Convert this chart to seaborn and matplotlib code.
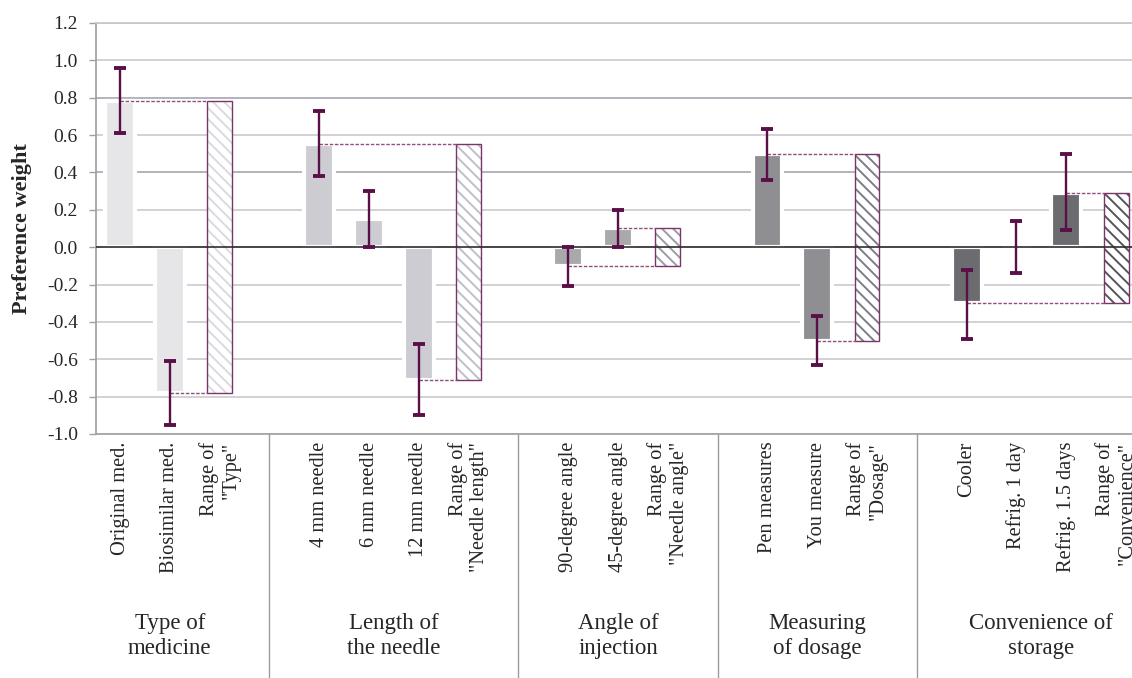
import numpy as np
import pandas as pd
import seaborn as sns
import matplotlib.pyplot as plt
from matplotlib.transforms import blended_transform_factory

# Attribute groups, their levels and the range label of each attribute
group_names = ["Type of\nmedicine", "Length of\nthe needle", "Angle of\ninjection",
               "Measuring\nof dosage", "Convenience of\nstorage"]
level_names = [
    ["Original med.", "Biosimilar med."],
    ["4 mm needle", "6 mm needle", "12 mm needle"],
    ["90-degree angle", "45-degree angle"],
    ["Pen measures", "You measure"],
    ["Cooler", "Refrig. 1 day", "Refrig. 1.5 days"],
]
range_names = ['Range of\n"Type"', 'Range of\n"Needle length"', 'Range of\n"Needle angle"',
               'Range of\n"Dosage"', 'Range of\n"Convenience"']

# Preference weights with 95% confidence limits
weights = [[0.78, -0.78], [0.55, 0.15, -0.71], [-0.10, 0.10], [0.50, -0.50], [-0.30, 0.00, 0.29]]
ci_low = [[0.61, -0.95], [0.38, 0.00, -0.90], [-0.21, 0.00], [0.36, -0.63], [-0.49, -0.14, 0.09]]
ci_high = [[0.96, -0.61], [0.73, 0.30, -0.52], [0.00, 0.20], [0.63, -0.37], [-0.12, 0.14, 0.50]]

y_ticks = [-1.0, -0.8, -0.6, -0.4, -0.2, 0.0, 0.2, 0.4, 0.6, 0.8, 1.0, 1.2]

bar_colors = ["#e5e5ea", "#cbcbd3", "#a8a8ad", "#8e8e94", "#6b6b71"]
hatch_colors = ["#dadadf", "#bfbfc8", "#9c9ca3", "#7d7d85", "#55555c"]
err_color = "#5b0f47"
range_edge = "#7d3569"
link_color = "#8e4e7e"

sns.set_theme(style="white")
plt.rcParams["font.family"] = ["Liberation Serif", "DejaVu Serif"]
plt.rcParams["axes.unicode_minus"] = False
plt.rcParams["hatch.linewidth"] = 1.4

# Slot layout: levels, then the range bar, then an empty divider slot
rows, range_pos, dividers, centers = [], [], [], []
pos = 0
for g, (levels, ws, lo, hi) in enumerate(zip(level_names, weights, ci_low, ci_high)):
    start = pos
    for name, w, l, h in zip(levels, ws, lo, hi):
        rows.append(dict(pos=pos, label=name, weight=w, low=l, high=h, group=f"g{g}"))
        pos += 1
    range_pos.append(pos)
    centers.append((start + pos) / 2)
    pos += 1
    dividers.append(pos)
    pos += 1
dividers = dividers[:-1]
df = pd.DataFrame(rows)

fig = plt.figure(figsize=(11.32, 6.78), dpi=100)
ax = fig.add_axes([96 / 1132, 244 / 678, 1036 / 1132, 411 / 678])

sns.barplot(data=df, x="pos", y="weight", hue="group", hue_order=[f"g{i}" for i in range(5)],
            palette=bar_colors, native_scale=True, dodge=False, width=0.6, errorbar=None,
            edgecolor="white", linewidth=3, legend=False, ax=ax, zorder=2)

# Range bars spanning min to max weight of each attribute
for g, ws in enumerate(weights):
    lo, hi = min(ws), max(ws)
    xr = range_pos[g]
    ax.bar(xr, hi - lo, bottom=lo, width=0.5, color="white", edgecolor=hatch_colors[g],
           hatch="\\\\\\", linewidth=0, zorder=2)
    ax.bar(xr, hi - lo, bottom=lo, width=0.5, fill=False, edgecolor=range_edge,
           linewidth=1.0, zorder=3)
    gdf = df[df.group == f"g{g}"]
    for val in (hi, lo):
        xs = gdf.loc[gdf.weight == val, "pos"].iloc[0]
        ax.plot([xs, xr - 0.25], [val, val], color=link_color, lw=1.0,
                ls=(0, (2.5, 1.2)), zorder=4)

ax.errorbar(df.pos, df.weight, yerr=[df.weight - df.low, df.high - df.weight], fmt="none",
            ecolor=err_color, elinewidth=1.7, capsize=4.5, capthick=2.8, zorder=6)

ax.axhline(0, color="#2e2e2e", lw=1.2, zorder=4)

ax.set_ylim(-1.0, 1.2)
ax.set_xlim(-0.482, 20.32)
ax.set_yticks(y_ticks)
ax.set_yticklabels([f"{v:.1f}" for v in y_ticks], fontsize=14)
ax.yaxis.grid(True, color="#c6c6cb", lw=1.1, zorder=0)
for line, v in zip(ax.get_ygridlines(), y_ticks):
    if abs(v - 0.4) < 1e-6 or abs(v - 0.8) < 1e-6:
        line.set_color("#9e9ea8")
ax.set_axisbelow(True)

tick_pos = list(df.pos) + range_pos
tick_lab = list(df.label) + range_names
ax.set_xticks(tick_pos)
ax.set_xticklabels(tick_lab, rotation=90, fontsize=14.7, va="top", ha="center")
for t in ax.get_xticklabels():
    t.set_multialignment("right")
ax.tick_params(axis="x", length=0, pad=5.5)
ax.tick_params(axis="y", length=5, width=1, color="#a0a0a0", pad=8, left=True)

for side in ("right",):
    ax.spines[side].set_visible(False)
ax.spines["top"].set_color("#c6c6cb")
ax.spines["left"].set_color("#a0a0a0")
ax.spines["bottom"].set_color("#a0a0a0")
ax.spines["bottom"].set_linewidth(1.2)

ax.set_xlabel("")
ax.set_ylabel("Preference weight", fontsize=16, fontweight="bold")
ax.yaxis.set_label_coords(-0.062, 0.5)

trans = blended_transform_factory(ax.transData, ax.transAxes)
for d in dividers:
    ax.plot([d, d], [0, -0.6], transform=trans, clip_on=False, color="#9a9aa2", lw=1)
for c, name in zip(centers, group_names):
    ax.text(c, -0.4915, name, transform=trans, ha="center", va="center",
            fontsize=16.5, linespacing=1.2)

fig.savefig("out.png", dpi=100)
